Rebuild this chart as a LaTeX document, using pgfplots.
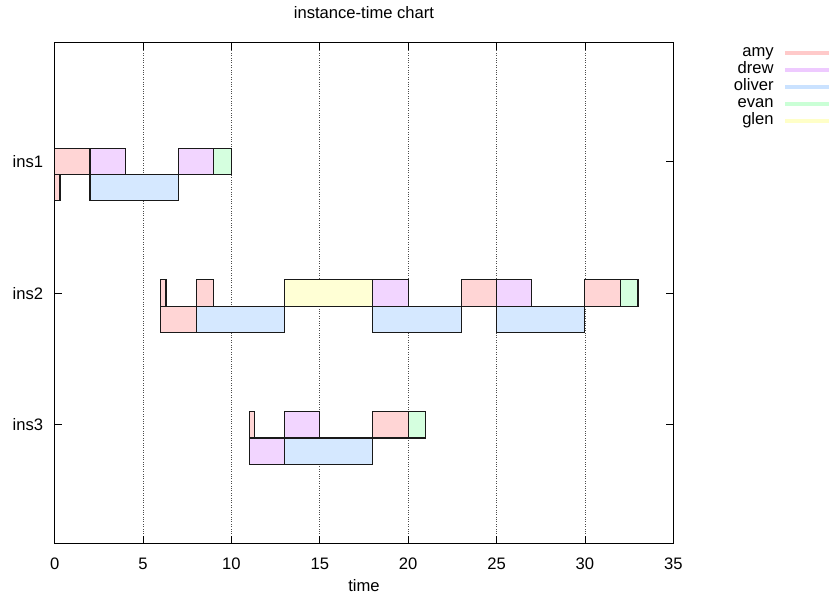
\documentclass[border=0pt]{standalone}
\usepackage{fontspec}
\setmainfont{Liberation Sans}
\usepackage{pgfplots}
\pgfplotsset{compat=1.18}
\definecolor{amy}{HTML}{FFD5D5}
\definecolor{drew}{HTML}{F2D5FF}
\definecolor{oliver}{HTML}{D5E8FF}
\definecolor{evan}{HTML}{D5FFDF}
\definecolor{glen}{HTML}{FFFFD5}
\definecolor{amyL}{HTML}{FFCACA}
\definecolor{drewL}{HTML}{EECAFF}
\definecolor{oliverL}{HTML}{CAE2FF}
\definecolor{evanL}{HTML}{CAFFD6}
\definecolor{glenL}{HTML}{FFFFC8}
\newcommand{\bx}[5]{\addplot[fill=#1, draw=black!90, line width=1.1bp, forget plot] coordinates {(#2,#4) (#3,#4) (#3,#5) (#2,#5)} -- cycle;}
\begin{document}
\begin{tikzpicture}[font=\fontsize{16.6bp}{19bp}\selectfont]
\useasboundingbox (-54.7bp,-51.6bp) rectangle (774.3bp,543.4bp);
\begin{axis}[
  scale only axis, width=618.6bp, height=500.7bp,
  at={(0,0)}, anchor=south west,
  xmin=0, xmax=35, ymin=0.1, ymax=3.9,
  xtick={0,5,...,35}, ytick={1,2,3}, yticklabels={ins3,ins2,ins1},
  tick align=inside, tick pos=both, major tick length=7bp,
  tick style={black, line width=0.8bp},
  axis line style={black, line width=1bp},
  xmajorgrids, major grid style={black!70, dotted, line width=0.8bp},
  /pgf/number format/assume math mode=true,
  xticklabel style={anchor=base, inner sep=0pt, yshift=-25.6bp},
  yticklabel style={anchor=base east, inner sep=0pt, xshift=-11.4bp, yshift=-6bp},
  title={instance-time chart},
  title style={at={(0.5,1)}, anchor=base, inner sep=0pt, yshift=18.7bp},
  xlabel={time},
  xlabel style={at={(0.5,0)}, anchor=base, inner sep=0pt, yshift=-48.1bp},
  legend style={draw=none, fill=none, at={(1.2555,0.997)}, anchor=north east, inner sep=0pt, row sep=0pt, column sep=10bp, nodes={inner sep=0pt, text height=12bp, text depth=5bp}},
  legend cell align=right, legend plot pos=right,
  legend image code/.code={\draw[#1] (0bp,0bp) -- (44bp,0bp);},
]
% ins1 (y=3)
\bx{amy}{0}{2}{2.9}{3.1}
\bx{drew}{2}{4}{2.9}{3.1}
\bx{drew}{7}{9}{2.9}{3.1}
\bx{evan}{9}{10}{2.9}{3.1}
\bx{amy}{0}{0.3}{2.7}{2.9}
\bx{oliver}{2}{7}{2.7}{2.9}
% ins2 (y=2)
\bx{amy}{6}{6.3}{1.9}{2.1}
\bx{amy}{8}{9}{1.9}{2.1}
\bx{glen}{13}{18}{1.9}{2.1}
\bx{drew}{18}{20}{1.9}{2.1}
\bx{amy}{23}{25}{1.9}{2.1}
\bx{drew}{25}{27}{1.9}{2.1}
\bx{amy}{30}{32}{1.9}{2.1}
\bx{evan}{32}{33}{1.9}{2.1}
\bx{amy}{6}{8}{1.7}{1.9}
\bx{oliver}{8}{13}{1.7}{1.9}
\bx{oliver}{18}{23}{1.7}{1.9}
\bx{oliver}{25}{30}{1.7}{1.9}
% ins3 (y=1)
\bx{amy}{11}{11.3}{0.9}{1.1}
\bx{drew}{13}{15}{0.9}{1.1}
\bx{amy}{18}{20}{0.9}{1.1}
\bx{evan}{20}{21}{0.9}{1.1}
\bx{drew}{11}{13}{0.7}{0.9}
\bx{oliver}{13}{18}{0.7}{0.9}
\addlegendimage{color=amyL, line width=3.5bp}\addlegendentry{amy}
\addlegendimage{color=drewL, line width=3.5bp}\addlegendentry{drew}
\addlegendimage{color=oliverL, line width=3.5bp}\addlegendentry{oliver}
\addlegendimage{color=evanL, line width=3.5bp}\addlegendentry{evan}
\addlegendimage{color=glenL, line width=3.5bp}\addlegendentry{glen}
\end{axis}
\end{tikzpicture}
\end{document}
